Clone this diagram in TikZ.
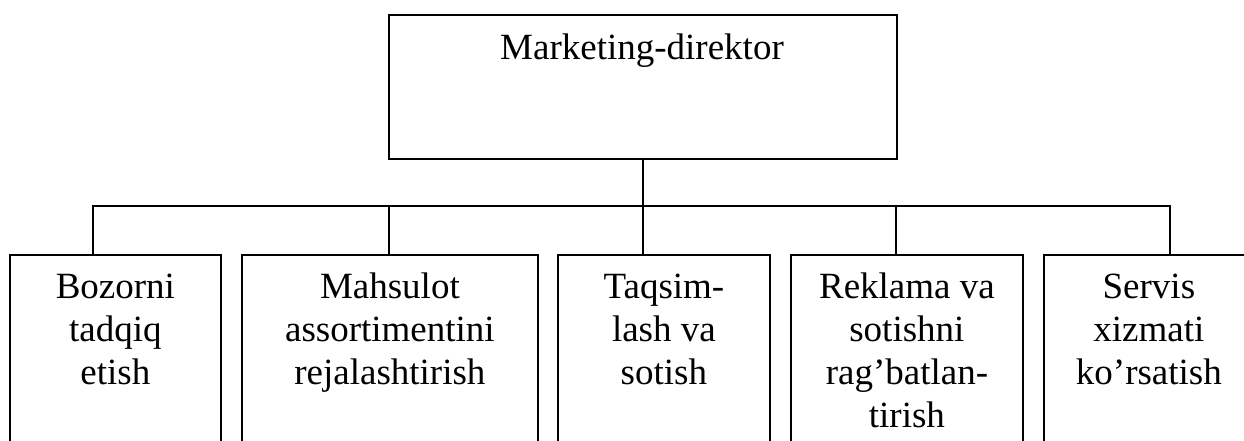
\documentclass[tikz,border=0pt]{standalone}
\usepackage{fontspec}
\setmainfont{Liberation Serif}
\begin{document}
\begin{tikzpicture}[x=1pt,y=1pt,
  line width=1.8pt,
  box/.style={draw, line width=1.8pt, rectangle, inner sep=0pt, anchor=north west},
  lbl/.style={font=\fontsize{37}{43}\selectfont, align=center, inner sep=0pt, anchor=base}]
  \useasboundingbox (0,0) rectangle (1244,441);
  \clip (0,0) rectangle (1244,441);

  % head of the department
  \node[box, minimum width=508pt, minimum height=144pt] (top) at (388,427) {};
  \node[lbl] (ttop) at (642,381) {Marketing-direktor};

  % subdivisions (open towards the bottom edge)
  \node[box, minimum width=211pt, minimum height=230pt] (b1) at (9,187) {};
  \node[box, minimum width=296pt, minimum height=230pt] (b2) at (241,187) {};
  \node[box, minimum width=212pt, minimum height=230pt] (b3) at (557,187) {};
  \node[box, minimum width=232pt, minimum height=230pt] (b4) at (790,187) {};
  \node[box, minimum width=210pt, minimum height=230pt] (b5) at (1043,187) {};

  % labels: base anchor sits on the last line
  \node[lbl] (t1) at (b1.north |- 0,56) {Bozorni\\tadqiq\\etish};
  \node[lbl] (t2) at (b2.north |- 0,56) {Mahsulot\\assortimentini\\rejalashtirish};
  \node[lbl] (t3) at (b3.north |- 0,56) {Taqsim-\\lash va\\sotish};
  \node[lbl] (t4) at (b4.north |- 0,13) {Reklama va\\sotishni\\rag’batlan-\\tirish};
  \node[lbl] (t5) at (b5.north |- 0,56) {Servis\\xizmati\\ko’rsatish};

  % distribution bus
  \coordinate (k1) at (93,235);
  \coordinate (k2) at (389,235);
  \coordinate (k3) at (642,235);
  \coordinate (k4) at (896,235);
  \coordinate (k5) at (1170,235);

  \draw (top.south) -- (top.south |- b3.north);
  \draw (b1.north -| k1) -- (k1) -- (k5) -- (b5.north -| k5);
  \draw (k2) -- (b2.north -| k2);
  \draw (k4) -- (b4.north -| k4);
\end{tikzpicture}
\end{document}
